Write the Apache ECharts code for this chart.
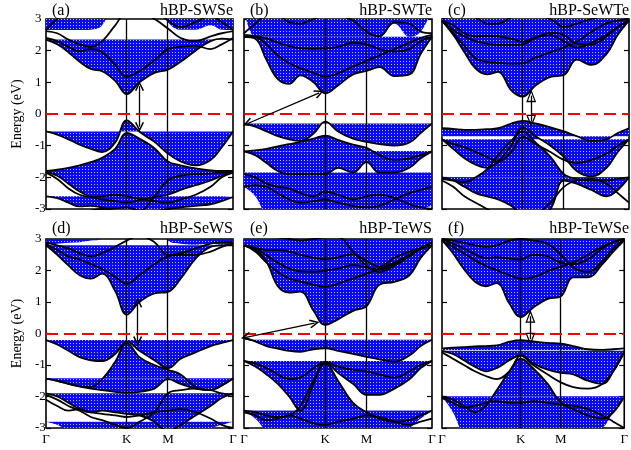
<!DOCTYPE html>
<html><head><meta charset="utf-8">
<script src="https://cdn.jsdelivr.net/npm/echarts@6/dist/echarts.min.js"></script>
<style>html,body{margin:0;padding:0;background:#fff}#c{width:631px;height:450px}</style>
</head><body><div id="c"></div>
<script>
// ---- k-path sampling (fraction of Γ-K-M-Γ path) ----
const kPath = [0, 0.06, 0.12, 0.18, 0.24, 0.30, 0.37, 0.432, 0.50, 0.58, 0.652, 0.72, 0.80, 0.88, 0.94, 1.0];
const kTickPos = [0, 0.432, 0.652, 1.0];
const kTickLabels = ['Γ', 'K', 'M', 'Γ'];
const panelTags = ['(a)', '(b)', '(c)', '(d)', '(e)', '(f)'];
const panelNames = ['hBP-SWSe', 'hBP-SWTe', 'hBP-SeWTe', 'hBP-SeWS', 'hBP-TeWS', 'hBP-TeWSe'];
const gapTexts = ['0.77', '0.94', '0.70', '0.75', '0.44', '0.55'];

// ---- panel (a) hBP-SWSe ----
const a_c1 = [2.35, 2.2, 1.95, 1.65, 1.42, 1.35, 1.05, 0.63, 1.0, 1.3, 1.4, 1.65, 2.0, 2.3, 2.38, 2.35];
const a_c2 = [2.4, 2.3, 2.12, 1.98, 2.05, 1.95, 1.55, 1.18, 1.35, 1.7, 2.05, 2.12, 2.15, 2.05, 2.2, 2.4];
const a_c3 = [2.62, 2.55, 2.35, 2.2, 2.12, 2.3, 2.8, 3.2, 3.2, 3.0, 2.7, 2.4, 2.3, 2.45, 2.55, 2.62];
const a_c4 = [2.66, 3.0, 3.3, 3.4, 3.3, 3.05, 3.3, 3.5, 3.5, 3.3, 2.95, 2.75, 2.9, 3.1, 2.9, 2.66];
const a_top = [2.65, 2.65, 2.65, 2.65, 2.66, 2.8, 3.6, 3.7, 3.7, 3.6, 2.9, 2.66, 2.66, 2.8, 2.66, 2.65];
const a_v1 = [-0.55, -0.65, -0.8, -0.97, -1.1, -1.2, -0.9, -0.2, -0.56, -0.88, -1.25, -1.5, -1.62, -1.45, -1.05, -0.55];
const a_v2 = [-1.8, -1.76, -1.7, -1.62, -1.52, -1.38, -1.1, -0.6, -0.78, -1.08, -1.5, -1.62, -1.72, -1.78, -1.8, -1.8];
const a_v3 = [-1.82, -1.95, -2.2, -2.45, -2.62, -2.7, -2.75, -2.8, -2.72, -2.62, -2.55, -2.4, -2.25, -2.1, -1.95, -1.82];
const a_v4 = [-2.6, -2.66, -2.8, -2.92, -2.9, -2.95, -3.1, -3.3, -3.3, -3.1, -3.0, -2.95, -2.9, -2.85, -2.75, -2.62];
const a_v5 = [-1.85, -2.05, -2.35, -2.55, -2.62, -2.6, -2.55, -2.6, -2.68, -2.75, -2.8, -2.7, -2.55, -2.3, -2.0, -1.85];
const a_v6 = [-3.4, -3.3, -3.2, -3.1, -3.05, -3.0, -2.98, -2.95, -3.05, -2.6, -2.1, -1.95, -1.9, -1.88, -1.85, -1.82];

// ---- panel (b) hBP-SWTe ----
const b_c1 = [2.44, 2.38, 1.7, 1.1, 0.95, 1.22, 1.0, 0.65, 0.9, 1.25, 1.36, 1.48, 1.2, 1.25, 1.9, 2.44];
const b_c2 = [2.44, 2.44, 2.39, 2.25, 2.15, 2.07, 2.06, 2.07, 2.12, 2.25, 2.2, 2.05, 1.97, 2.05, 2.3, 2.44];
const b_c3 = [2.5, 2.45, 2.2, 1.85, 1.6, 1.45, 1.3, 1.18, 1.28, 1.5, 1.68, 1.85, 2.05, 2.25, 2.4, 2.5];
const b_c4 = [2.55, 2.85, 3.1, 3.1, 2.9, 2.85, 3.0, 3.1, 3.1, 2.95, 2.6, 2.45, 2.9, 2.85, 2.6, 2.55];
const b_top = [3.3, 2.44, 2.44, 2.44, 2.44, 2.44, 2.44, 2.44, 2.44, 2.44, 2.44, 2.44, 2.85, 2.44, 2.6, 3.3];
const b_v1 = [-0.3, -0.4, -0.55, -0.7, -0.8, -0.85, -0.62, -0.24, -0.55, -0.78, -0.88, -0.95, -1.0, -0.9, -0.6, -0.3];
const b_v2 = [-1.18, -1.15, -1.1, -1.02, -0.95, -0.88, -0.78, -0.68, -0.82, -0.97, -1.07, -1.3, -1.45, -1.4, -1.3, -1.18];
const b_v3 = [-1.18, -1.3, -1.55, -1.8, -1.9, -1.9, -1.9, -1.9, -1.7, -1.85, -1.52, -1.85, -1.85, -1.7, -1.4, -1.18];
const b_v4 = [-2.3, -2.6, -3.2, -3.3, -3.3, -3.3, -3.3, -3.3, -3.3, -3.3, -3.3, -3.3, -3.2, -3.1, -3.0, -2.9];
const b_v5 = [-1.9, -2.0, -2.2, -2.3, -2.35, -2.5, -2.6, -2.45, -2.55, -2.7, -2.6, -2.55, -2.65, -2.85, -2.95, -3.0];
const b_v6 = [-2.3, -2.25, -2.3, -2.5, -2.7, -2.8, -2.75, -2.7, -2.8, -2.9, -2.95, -2.9, -2.7, -2.5, -2.4, -2.3];

// ---- panel (c) hBP-SeWTe ----
const c_c1 = [2.95, 2.5, 1.95, 1.43, 1.25, 1.33, 0.75, 0.55, 0.9, 1.17, 1.23, 1.72, 1.55, 1.9, 2.5, 2.95];
const c_c2 = [2.95, 2.55, 2.15, 1.75, 1.65, 1.62, 1.59, 1.6, 1.78, 1.95, 2.1, 2.28, 2.6, 2.86, 2.95, 3.0];
const c_c3 = [2.95, 2.8, 2.55, 2.45, 2.47, 2.45, 2.38, 2.28, 2.42, 2.49, 2.3, 2.1, 2.25, 2.5, 2.75, 2.95];
const c_c4 = [2.95, 2.65, 2.45, 2.3, 2.22, 2.18, 2.18, 2.2, 2.4, 2.56, 2.5, 2.22, 2.2, 2.45, 2.75, 2.95];
const c_c5 = [3.0, 3.1, 3.1, 3.05, 2.85, 2.85, 3.05, 3.1, 3.1, 3.0, 2.75, 2.85, 3.0, 3.1, 3.1, 3.0];
const c_v1 = [-0.45, -0.47, -0.5, -0.5, -0.48, -0.45, -0.3, -0.22, -0.3, -0.42, -0.55, -0.7, -0.85, -0.8, -0.6, -0.45];
const c_v2 = [-0.8, -1.1, -1.4, -1.6, -1.7, -1.5, -1.0, -0.42, -0.7, -1.0, -1.35, -1.8, -1.97, -1.7, -1.2, -0.8];
const c_v3 = [-2.0, -2.1, -2.3, -2.5, -2.6, -2.7, -2.9, -3.2, -3.3, -3.0, -2.1, -2.2, -2.4, -2.6, -2.4, -2.0];
const c_v4 = [-2.05, -2.1, -2.15, -2.0, -1.75, -1.3, -0.85, -0.55, -0.9, -1.35, -1.9, -2.05, -2.1, -2.1, -2.05, -2.0];
const c_v5 = [-0.8, -0.95, -1.05, -1.2, -1.35, -1.5, -1.2, -0.72, -0.95, -1.2, -1.45, -1.55, -1.45, -1.25, -1.0, -0.8];
const c_v6 = [-2.1, -2.3, -2.6, -2.8, -3.0, -3.2, -3.3, -3.4, -3.2, -2.8, -2.3, -2.1, -2.05, -2.2, -2.5, -2.8];

// ---- panel (d) hBP-SeWS ----
const d_c1 = [2.8, 2.5, 2.16, 1.85, 1.74, 1.9, 1.35, 0.6, 1.0, 1.27, 1.32, 1.74, 2.38, 2.75, 2.8, 2.8];
const d_c2 = [2.85, 2.65, 2.45, 2.35, 2.2, 2.05, 1.8, 1.58, 1.85, 2.2, 2.45, 2.5, 2.5, 2.6, 2.75, 2.85];
const d_c3 = [2.9, 2.8, 2.7, 2.55, 2.45, 2.55, 2.75, 2.95, 3.1, 2.9, 2.5, 2.55, 2.7, 2.85, 2.9, 2.9];
const d_top = [2.82, 2.85, 2.88, 2.9, 2.95, 3.0, 3.6, 3.7, 3.7, 3.6, 2.95, 2.85, 2.82, 2.85, 2.82, 2.82];
const d_v1 = [-0.21, -0.35, -0.55, -0.75, -0.85, -0.88, -0.65, -0.26, -0.55, -0.85, -1.1, -0.8, -0.6, -0.4, -0.3, -0.21];
const d_v2 = [-1.43, -1.5, -1.6, -1.68, -1.7, -1.45, -0.9, -0.3, -0.75, -1.0, -1.15, -1.3, -1.7, -1.8, -1.65, -1.43];
const d_v3 = [-1.9, -2.0, -2.2, -2.4, -2.5, -2.45, -2.5, -2.55, -2.6, -2.8, -3.1, -2.9, -2.6, -2.3, -2.05, -1.9];
const d_v4 = [-2.8, -2.9, -3.1, -3.2, -3.3, -3.3, -3.3, -3.3, -3.3, -3.3, -3.3, -3.2, -3.1, -3.0, -2.9, -2.8];
const d_v5 = [-1.43, -1.5, -1.6, -1.68, -1.75, -1.8, -1.85, -1.88, -1.85, -1.75, -1.45, -1.6, -1.75, -1.8, -1.65, -1.43];
const d_v6 = [-1.95, -2.1, -2.3, -2.45, -2.65, -2.75, -2.9, -3.0, -2.8, -2.5, -1.9, -1.8, -1.75, -1.8, -1.9, -1.95];
const d_v7 = [-2.1, -2.3, -2.45, -2.4, -2.5, -2.55, -2.6, -2.65, -2.6, -2.5, -2.45, -2.4, -2.5, -2.7, -2.9, -3.0];

// ---- panel (e) hBP-TeWS ----
const e_c1 = [2.8, 2.65, 2.28, 1.5, 1.3, 1.33, 0.72, 0.27, 0.45, 0.72, 0.87, 1.55, 1.64, 1.85, 2.4, 2.8];
const e_c2 = [2.8, 2.6, 2.25, 1.95, 1.75, 1.65, 1.55, 1.48, 1.58, 1.75, 1.9, 2.05, 2.25, 2.5, 2.7, 2.8];
const e_c3 = [2.8, 2.7, 2.48, 2.25, 2.06, 1.97, 1.96, 2.0, 2.06, 2.17, 2.1, 2.03, 2.2, 2.5, 2.72, 2.8];
const e_c4 = [2.78, 2.72, 2.65, 2.65, 2.6, 2.5, 2.4, 2.36, 2.42, 2.52, 2.3, 2.12, 2.4, 2.6, 2.7, 2.78];
const e_c5 = [3.1, 3.1, 3.1, 3.05, 3.0, 2.95, 3.0, 3.05, 3.05, 2.6, 2.15, 1.95, 2.15, 2.45, 2.7, 2.9];
const e_v1 = [-0.12, -0.25, -0.4, -0.48, -0.55, -0.58, -0.5, -0.47, -0.55, -0.65, -0.74, -0.82, -0.9, -0.7, -0.4, -0.2];
const e_v2 = [-0.87, -1.05, -1.3, -1.6, -2.0, -2.45, -1.6, -0.9, -1.25, -1.6, -1.95, -1.95, -1.75, -1.45, -1.1, -0.87];
const e_v3 = [-2.45, -2.5, -2.6, -2.65, -2.6, -2.3, -1.5, -0.95, -1.5, -2.2, -2.5, -2.7, -2.8, -2.75, -2.6, -2.45];
const e_v4 = [-2.45, -2.7, -3.1, -3.3, -3.3, -3.3, -3.3, -3.3, -3.3, -3.3, -3.3, -3.3, -3.2, -3.0, -2.7, -2.45];
const e_v5 = [-0.87, -0.95, -1.1, -1.3, -1.45, -1.4, -1.1, -0.9, -1.05, -1.15, -1.2, -1.3, -1.4, -1.2, -1.0, -0.87];
const e_v6 = [-2.5, -2.6, -2.75, -2.7, -2.6, -2.7, -2.85, -2.9, -2.8, -2.7, -2.6, -2.65, -2.8, -2.9, -2.8, -2.7];

// ---- panel (f) hBP-TeWSe ----
const f_c1 = [2.96, 2.55, 2.05, 1.65, 1.5, 1.6, 0.95, 0.52, 0.82, 1.1, 1.18, 1.78, 1.78, 2.2, 2.6, 2.96];
const f_c2 = [2.95, 2.75, 2.55, 2.33, 2.15, 2.01, 1.85, 1.74, 1.78, 1.98, 2.12, 2.26, 2.49, 2.76, 2.9, 3.0];
const f_c3 = [3.0, 2.85, 2.7, 2.52, 2.4, 2.42, 2.38, 2.35, 2.5, 2.45, 2.25, 2.2, 2.35, 2.7, 2.9, 3.0];
const f_c4 = [3.0, 2.95, 2.88, 2.8, 2.75, 2.8, 2.95, 3.0, 2.95, 2.85, 2.5, 2.1, 1.95, 2.3, 2.7, 3.0];
const f_v1 = [-0.47, -0.45, -0.43, -0.41, -0.4, -0.38, -0.26, -0.21, -0.25, -0.3, -0.32, -0.4, -0.5, -0.52, -0.5, -0.47];
const f_v2 = [-0.55, -0.65, -0.85, -1.05, -1.2, -1.1, -0.85, -0.69, -0.95, -1.15, -1.25, -1.3, -1.5, -1.6, -1.2, -0.55];
const f_v3 = [-2.0, -2.1, -2.3, -2.5, -2.3, -1.8, -1.2, -0.8, -1.1, -1.6, -2.2, -2.4, -2.6, -2.7, -2.5, -2.0];
const f_v4 = [-2.0, -2.5, -3.2, -3.3, -3.3, -3.3, -3.3, -3.3, -3.3, -3.3, -3.3, -3.3, -3.2, -3.0, -2.5, -2.0];
const f_v5 = [-0.6, -0.8, -1.0, -1.2, -1.35, -1.45, -1.2, -0.7, -1.0, -1.3, -1.55, -1.7, -1.75, -1.6, -1.2, -0.6];
const f_v6 = [-2.05, -2.2, -2.35, -2.3, -2.2, -2.15, -2.2, -2.2, -2.15, -2.2, -2.25, -2.3, -2.4, -2.6, -2.8, -3.0];

// ---- gap arrows [k1, E1, k2, E2] and gap label positions [k, E] ----
const arrowA = [0.50, 0.88, 0.50, -0.40];
const arrowB = [0.02, -0.30, 0.40, 0.67];
const arrowC = [0.477, 0.58, 0.477, -0.23];
const arrowD = [0.49, 0.98, 0.49, -0.24];
const arrowE = [0.01, -0.12, 0.375, 0.33];
const arrowF = [0.485, 0.55, 0.485, -0.18];
const labelA = [0.27, 0.44], labelB = [0.52, 0.30], labelC = [0.33, 0.42];
const labelD = [0.34, 0.63], labelE = [0.54, 0.22], labelF = [0.31, 0.36];

// ---- assemble panels ([fill level, band] pairs: area between band and level) ----
const panels = [
  { lines: [a_c1, a_c2, a_c3, a_c4, a_v1, a_v2, a_v3, a_v4, a_v5, a_v6],
    fills: [[2.35, a_c1], [3.6, a_top], [-0.55, a_v1], [-1.8, a_v2], [-1.8, a_v3], [-2.6, a_v4]],
    arrow: arrowA, label: labelA, head: 'v' },
  { lines: [b_c1, b_c2, b_c3, b_c4, b_v1, b_v2, b_v3, b_v5, b_v6],
    fills: [[2.44, b_c1], [3.6, b_top], [-0.3, b_v1], [-1.18, b_v2], [-1.18, b_v3], [-1.85, b_v4]],
    arrow: arrowB, label: labelB, head: 'v' },
  { lines: [c_c1, c_c2, c_c3, c_c4, c_c5, c_v1, c_v2, c_v3, c_v4, c_v5, c_v6],
    fills: [[3.1, c_c1], [-0.7, c_v1], [-0.8, c_v2], [-2.0, c_v3], [-2.0, c_v4]],
    arrow: arrowC, label: labelC, head: 't' },
  { lines: [d_c1, d_c2, d_c3, d_v1, d_v2, d_v3, d_v5, d_v6, d_v7],
    fills: [[2.8, d_c1], [3.6, d_top], [-0.21, d_v1], [-1.43, d_v2], [-1.43, d_v5], [-1.9, d_v3], [-2.8, d_v4]],
    arrow: arrowD, label: labelD, head: 'v' },
  { lines: [e_c1, e_c2, e_c3, e_c4, e_c5, e_v1, e_v2, e_v3, e_v5, e_v6],
    fills: [[3.1, e_c1], [-0.2, e_v1], [-0.87, e_v2], [-2.45, e_v3], [-2.45, e_v4]],
    arrow: arrowE, label: labelE, head: 'v' },
  { lines: [f_c1, f_c2, f_c3, f_c4, f_v1, f_v2, f_v3, f_v5, f_v6],
    fills: [[3.1, f_c1], [-0.52, f_v1], [-0.55, f_v2], [-2.0, f_v3], [-2.0, f_v4]],
    arrow: arrowF, label: labelF, head: 't' }
];

// ---- layout ----
const colLeft = [46, 244, 442], colWidth = [187, 188, 187];
const rowTop = [19, 239], rowHeight = [190, 189];
const FONT = 'Liberation Serif, Times New Roman, serif';

// dotted blue fill pattern
const pc = document.createElement('canvas'); pc.width = 3; pc.height = 3;
const pctx = pc.getContext('2d');
pctx.fillStyle = '#0a0af2'; pctx.fillRect(0, 0, 3, 3);
pctx.fillStyle = '#b9b9ff'; pctx.fillRect(1, 1, 1, 1);
const fillPattern = { image: pc, repeat: 'repeat' };

const chevron = 'path://M5,0 L10,9 L8.6,10 L5,3.2 L1.4,10 L0,9 Z';
const hollowTri = 'path://M5,0 L10,12 L0,12 Z M5,3.2 L1.8,10.8 L8.2,10.8 Z';

const grid = [], xAxis = [], yAxis = [], series = [], title = [];
const toData = arr => kPath.map((k, j) => [k, arr[j]]);

panels.forEach((p, i) => {
  const r = Math.floor(i / 3), c = i % 3;
  const left = colLeft[c], top = rowTop[r], w = colWidth[c], h = rowHeight[r];
  grid.push({ left, top, width: w, height: h, show: true, borderColor: '#000', borderWidth: 1.6, backgroundColor: 'transparent' });
  xAxis.push({
    type: 'value', gridIndex: i, min: 0, max: 1,
    axisLine: { show: false }, splitLine: { show: false },
    axisTick: { show: false },
    axisLabel: {
      show: r === 1, customValues: kTickPos, margin: 5, color: '#000', fontFamily: FONT, fontSize: 13,
      formatter: v => { let b = 0; kTickPos.forEach((t, q) => { if (Math.abs(t - v) < Math.abs(kTickPos[b] - v)) b = q; }); return kTickLabels[b]; }
    }
  });
  const yBase = {
    type: 'value', gridIndex: i, min: -3, max: 3, interval: 1,
    axisLine: { show: false }, splitLine: { show: false },
    axisTick: { show: true, inside: true, length: 5, lineStyle: { color: '#000', width: 1.2 } }
  };
  yAxis.push(Object.assign({}, yBase, {
    position: 'left',
    axisLabel: { show: c === 0, margin: 11, align: 'left', color: '#000', fontFamily: FONT, fontSize: 13 },
    name: c === 0 ? 'Energy (eV)' : '', nameLocation: 'middle', nameGap: 22,
    nameTextStyle: { color: '#000', fontFamily: FONT, fontSize: 14 }
  }));
  yAxis.push(Object.assign({}, yBase, { position: 'right', axisLabel: { show: false } }));
  const yi = 2 * i;

  // K and M vertical guide lines (behind fills)
  series.push({
    type: 'line', xAxisIndex: i, yAxisIndex: yi, data: [], z: 1, silent: true,
    markLine: { silent: true, symbol: ['none', 'none'], label: { show: false },
      lineStyle: { color: '#000', width: 1.3, type: 'solid' },
      data: [{ xAxis: kTickPos[1] }, { xAxis: kTickPos[2] }] }
  });
  // filled regions: area between a band and a constant energy level
  p.fills.forEach(([level, arr]) => {
    series.push({
      type: 'line', xAxisIndex: i, yAxisIndex: yi, data: toData(arr), smooth: 0.4,
      showSymbol: false, symbol: 'none', silent: true, z: 2,
      lineStyle: { width: 0, opacity: 0 },
      areaStyle: { origin: level, color: fillPattern, opacity: 1 }
    });
  });
  // band lines
  p.lines.forEach(arr => {
    series.push({
      type: 'line', xAxisIndex: i, yAxisIndex: yi, data: toData(arr), smooth: 0.4,
      showSymbol: false, symbol: 'none', silent: true, z: 3,
      lineStyle: { color: '#000', width: 1.8 }
    });
  });
  // Fermi level
  series.push({
    type: 'line', xAxisIndex: i, yAxisIndex: yi, data: [], z: 5, silent: true,
    markLine: { silent: true, symbol: ['none', 'none'], label: { show: false },
      lineStyle: { color: '#ff0000', width: 2, type: [12, 6] },
      data: [{ yAxis: 0 }] }
  });
  // gap arrow + label
  const a = p.arrow, sym = p.head === 'v' ? chevron : hollowTri;
  series.push({
    type: 'scatter', xAxisIndex: i, yAxisIndex: yi, z: 6, silent: true,
    data: [p.label], symbolSize: 1, itemStyle: { opacity: 0 },
    label: { show: true, position: 'inside', formatter: gapTexts[i], color: '#000', fontFamily: FONT, fontSize: 13 },
    markLine: { silent: true, symbol: [sym, sym], symbolSize: p.head === 'v' ? [9, 10] : [10, 13],
      label: { show: false }, lineStyle: { color: '#000', width: 1.3, type: 'solid' },
      data: [[{ coord: [a[0], a[1]] }, { coord: [a[2], a[3]] }]] }
  });
  // titles
  const ts = { color: '#000', fontFamily: FONT, fontSize: 16, fontWeight: 'normal' };
  const tTop = r === 0 ? 3 : 221;
  title.push({ text: panelTags[i], left: left + 6, top: tTop, padding: 0, textStyle: ts });
  title.push({ text: panelNames[i], right: 631 - (left + w), top: tTop, padding: 0, textStyle: ts });
});

const chart = echarts.init(document.getElementById('c'), null, { renderer: 'canvas' });
chart.setOption({ animation: false, backgroundColor: '#fff', title, grid, xAxis, yAxis, series });
</script></body></html>
